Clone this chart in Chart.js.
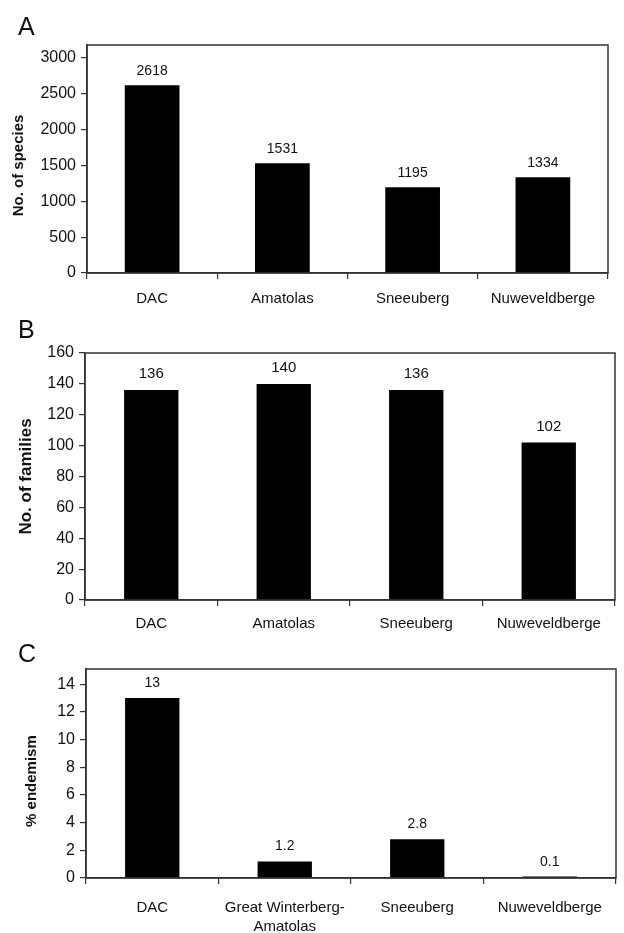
<!DOCTYPE html>
<html>
<head>
<meta charset="utf-8">
<script src="https://cdn.jsdelivr.net/npm/chart.js@4/dist/chart.umd.min.js"></script>
<style>
  html, body { margin: 0; padding: 0; background: #fff; }
  #page { position: relative; width: 624px; height: 933px; }
  .panel { position: absolute; left: 0; width: 624px; }
</style>
</head>
<body>
<div id="page">
  <div class="panel" style="top:0px;height:310px;"><canvas id="canvas-a"></canvas></div>
  <div class="panel" style="top:310px;height:325px;"><canvas id="canvas-b"></canvas></div>
  <div class="panel" style="top:635px;height:298px;"><canvas id="canvas-c"></canvas></div>
</div>
<script>
// data
var regions = [`DAC`, `Amatolas`, `Sneeuberg`, `Nuweveldberge`];
var regionsC = [`DAC`, [`Great Winterberg-`, `Amatolas`], `Sneeuberg`, `Nuweveldberge`];
var speciesCount = [2618, 1531, 1195, 1334];
var familyCount = [136, 140, 136, 102];
var endemismPct = [13, 1.2, 2.8, 0.1];
var yTicksA = [0, 500, 1000, 1500, 2000, 2500, 3000];
var yTicksB = [0, 20, 40, 60, 80, 100, 120, 140, 160];
var yTicksC = [0, 2, 4, 6, 8, 10, 12, 14];
var yMaxA = 3180;
var yMaxB = 160;
var yMaxC = 15.1;

var FONT = `"Liberation Sans", Arial, Helvetica, sans-serif`;
var INK = `#111`;
var AXIS = `#333`;

// frame box, value labels, panel letter and y title
var panelDecor = {
    id: `panelDecor`,
    afterDraw(chart, args, opts){
        var ctx = chart.ctx;
        var area = chart.chartArea;
        var y = chart.scales.y;
        ctx.save();
        ctx.strokeStyle = AXIS;
        ctx.lineWidth = 1.5;
        ctx.strokeRect(area.left, area.top, area.right - area.left, area.bottom - area.top);

        // values above bars
        ctx.fillStyle = INK;
        ctx.font = `${opts.valueSize}px ${FONT}`;
        ctx.textAlign = `center`;
        ctx.textBaseline = `alphabetic`;
        var meta = chart.getDatasetMeta(0);
        var values = chart.data.datasets[0].data;
        meta.data.forEach((bar, i) => {
            ctx.fillText(String(values[i]), bar.x, bar.y - opts.valueGap);
        });

        // panel letter
        ctx.font = `25px ${FONT}`;
        ctx.textAlign = `left`;
        ctx.fillText(opts.letter, 18, opts.letterY);

        // y title, centred on the labelled tick range
        var ticks = y.ticks;
        var yMid = (y.getPixelForValue(ticks[0].value) + y.getPixelForValue(ticks[ticks.length - 1].value)) / 2;
        ctx.translate(opts.titleX, yMid);
        ctx.rotate(-Math.PI / 2);
        ctx.font = `bold ${opts.titleSize}px ${FONT}`;
        ctx.textAlign = `center`;
        ctx.textBaseline = `middle`;
        ctx.fillText(opts.title, 0, 0);
        ctx.restore();
    }
};

function fillCanvas(p){

    var myChart = new Chart(document.getElementById(p.id), {
        type: `bar`,
        data: {
            labels: p.labels,
            datasets: [{
                data: p.values,
                backgroundColor: `#000`,
                borderColor: `#000`,
                borderWidth: 0,
                barPercentage: p.barPct,
                categoryPercentage: 1,
            }]
        },
        options: {
            animation: false,
            responsive: true,
            maintainAspectRatio: false,
            devicePixelRatio: 1,
            layout: { padding: { top: p.padTop, right: p.padRight, left: 0, bottom: 0 } },
            plugins: {
                legend: { display: false },
                tooltip: { enabled: false },
                panelDecor: {
                    letter: p.letter, letterY: p.letterY,
                    title: p.title, titleSize: p.titleSize, titleX: p.titleX,
                    valueSize: p.valueSize, valueGap: p.valueGap,
                }
            },
            scales: {
                x: {
                    grid: { offset: true, drawOnChartArea: false, tickLength: 6, color: AXIS, lineWidth: 1.2 },
                    border: { color: AXIS, width: 1.5 },
                    ticks: { color: INK, padding: p.xPad, font: { family: FONT, size: 15, lineHeight: 1.3 }, maxRotation: 0, autoSkip: false },
                    afterFit: (s) => { s.height = p.xh; },
                },
                y: {
                    min: 0,
                    max: p.yMax,
                    grid: { drawOnChartArea: false, tickLength: 6, color: AXIS, lineWidth: 1.2 },
                    border: { color: AXIS, width: 1.5 },
                    ticks: { color: INK, padding: 5, autoSkip: false, font: { family: FONT, size: 16 }, callback: (v) => String(v) },
                    afterBuildTicks: (s) => { s.ticks = p.yTicks.map(v => ({ value: v })); },
                    afterFit: (s) => { s.width = p.yw; },
                }
            }
        },
        plugins: [panelDecor]
    });

    return myChart;
}

fillCanvas({
    id: `canvas-a`, labels: regions, values: speciesCount, yMax: yMaxA, yTicks: yTicksA,
    barPct: 0.42, padTop: 45, padRight: 16, yw: 87, xh: 37, xPad: 10,
    letter: `A`, letterY: 35, title: `No. of species`, titleSize: 15, titleX: 19,
    valueSize: 14, valueGap: 10,
});

fillCanvas({
    id: `canvas-b`, labels: regions, values: familyCount, yMax: yMaxB, yTicks: yTicksB,
    barPct: 0.41, padTop: 43, padRight: 9, yw: 85, xh: 35, xPad: 8,
    letter: `B`, letterY: 28, title: `No. of families`, titleSize: 17, titleX: 26,
    valueSize: 15, valueGap: 12,
});

fillCanvas({
    id: `canvas-c`, labels: regionsC, values: endemismPct, yMax: yMaxC, yTicks: yTicksC,
    barPct: 0.41, padTop: 34, padRight: 8, yw: 86, xh: 55, xPad: 14,
    letter: `C`, letterY: 27, title: `% endemism`, titleSize: 15, titleX: 32,
    valueSize: 14, valueGap: 11,
});
</script>
</body>
</html>
